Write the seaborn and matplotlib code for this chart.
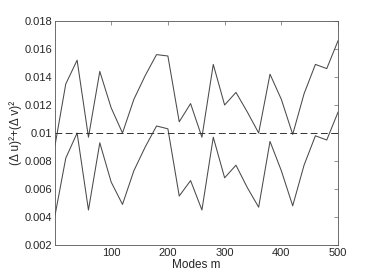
import matplotlib
matplotlib.use('Agg')
import matplotlib.pyplot as plt
import pandas as pd
import seaborn as sns

modes = [1, 20, 40, 60, 80, 100, 120, 140, 160, 180, 200, 220, 240, 260,
         280, 300, 320, 340, 360, 380, 400, 420, 440, 460, 480, 500]
upper = [0.0091, 0.0135, 0.0152, 0.0097, 0.0144, 0.0118, 0.0100, 0.0124, 0.0141,
         0.0156, 0.0155, 0.0108, 0.0121, 0.0097, 0.0149, 0.0120, 0.0129, 0.0115,
         0.0100, 0.0142, 0.0124, 0.0099, 0.0128, 0.0149, 0.0146, 0.0166]
lower = [0.0041, 0.0082, 0.0100, 0.0045, 0.0093, 0.0065, 0.0049, 0.0073, 0.0090,
         0.0105, 0.0103, 0.0055, 0.0066, 0.0045, 0.0097, 0.0068, 0.0077, 0.0061,
         0.0047, 0.0094, 0.0073, 0.0048, 0.0077, 0.0098, 0.0095, 0.0115]
ref_level = 0.01

yticks = [0.002, 0.004, 0.006, 0.008, 0.01, 0.012, 0.014, 0.016, 0.018]
ytick_labels = ['0.002', '0.004', '0.006', '0.008', '0.01', '0.012', '0.014', '0.016', '0.018']
xticks = [100, 200, 300, 400, 500]

df = pd.DataFrame({'m': modes, 'upper': upper, 'lower': lower})

sns.set_style('white')
plt.rcParams['font.family'] = ['Liberation Sans', 'DejaVu Sans']
plt.rcParams['font.size'] = 8

fig = plt.figure(figsize=(3.74, 2.80), dpi=100)
ax = fig.add_axes([0.147, 0.125, 0.757, 0.8])

sns.lineplot(data=df, x='m', y='upper', ax=ax, color='#4a4a4a', lw=0.75)
sns.lineplot(data=df, x='m', y='lower', ax=ax, color='#4a4a4a', lw=0.75)
ax.axhline(ref_level, color='#333333', lw=0.7, ls=(0, (7, 3.5)))

ax.set_xlim(1, 500)
ax.set_ylim(0.002, 0.018)
ax.set_xticks(xticks)
ax.set_yticks(yticks)
ax.set_yticklabels(ytick_labels)
ax.tick_params(direction='in', length=3, width=0.5, color='#666666',
               labelcolor='#262626', top=True, right=True, labelsize=8, pad=2)
for s in ax.spines.values():
    s.set_color('#555555')
    s.set_linewidth(0.6)

ax.set_xlabel('Modes m', fontsize=8.5, labelpad=1, color='#262626')
ax.set_ylabel('(Δ u)²+(Δ v)²', fontsize=8.5, labelpad=2, color='#262626')

fig.savefig('out.png', dpi=100)
